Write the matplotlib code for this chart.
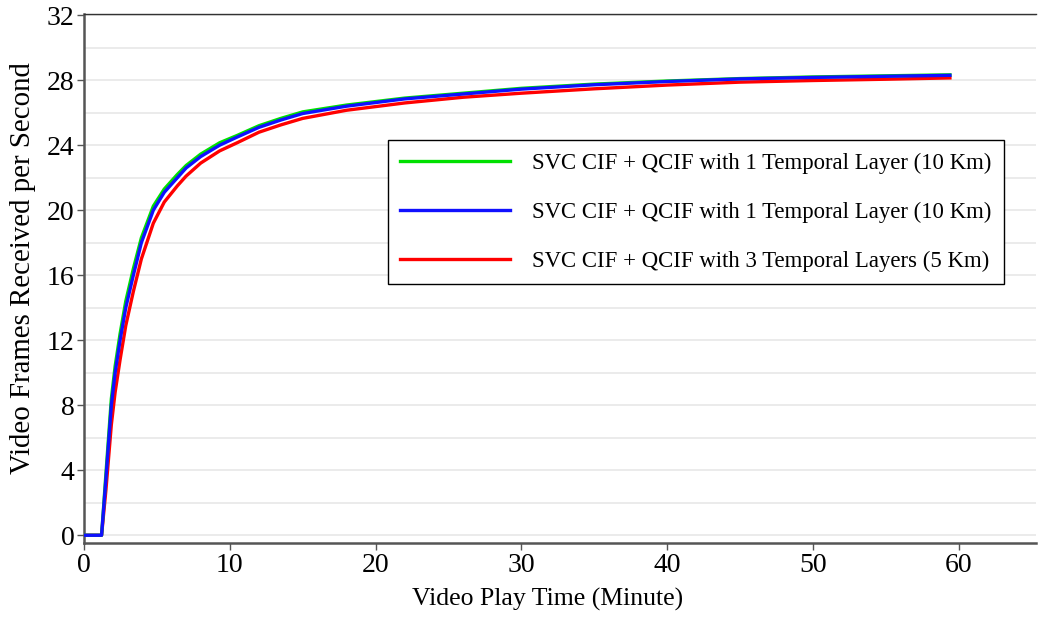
import numpy as np
import matplotlib
matplotlib.use('Agg')
import matplotlib.pyplot as plt
from matplotlib.ticker import MultipleLocator

plt.rcParams['font.family'] = ['Liberation Serif', 'DejaVu Serif']

# play time in minutes and received frame rate of the three runs
minutes = [0, 1.2, 1.5, 1.87, 2.13, 2.47, 2.86, 3.38, 3.93, 4.75, 5.5, 6.4, 7.0, 8, 9.3,
           10.5, 12, 13.5, 15, 18, 22, 26, 30, 35, 40, 45, 50, 55, 59.4]
green_fps = [0, 0, 3.8, 8.4, 10.4, 12.4, 14.4, 16.4, 18.3, 20.25, 21.3, 22.2, 22.75, 23.45, 24.15,
             24.6, 25.2, 25.65, 26.05, 26.47, 26.9, 27.2, 27.5, 27.76, 27.95, 28.1, 28.2, 28.27, 28.33]
blue_fps = [0, 0, 3.5, 8, 10, 12, 14, 16, 18, 20, 21.1, 22, 22.6, 23.3, 24,
            24.5, 25.1, 25.55, 25.95, 26.4, 26.85, 27.15, 27.45, 27.72, 27.92, 28.08, 28.17, 28.24, 28.3]
red_fps = [0, 0, 2.8, 6.8, 8.8, 10.8, 12.9, 15.0, 17.0, 19.2, 20.5, 21.5, 22.1, 22.9, 23.65,
           24.15, 24.8, 25.25, 25.65, 26.15, 26.6, 26.95, 27.2, 27.47, 27.7, 27.88, 27.98, 28.06, 28.14]
labels = ['SVC CIF + QCIF with 1 Temporal Layer (10 Km)',
          'SVC CIF + QCIF with 1 Temporal Layer (10 Km)',
          'SVC CIF + QCIF with 3 Temporal Layers (5 Km)']

fig = plt.figure(figsize=(10.38, 6.18), dpi=100)
ax = fig.add_axes([0.081, 0.121, 0.917, 0.856])

lg, = ax.plot(minutes, green_fps, color='#00e000', lw=2.4, zorder=3)
lr, = ax.plot(minutes, red_fps, color='#ff0000', lw=2.4, zorder=2)
lb, = ax.plot(minutes, blue_fps, color='#1010ff', lw=2.4, zorder=4)

ax.set_xlim(0, 65.3)
ax.set_ylim(-0.49, 32.06)
ax.xaxis.set_major_locator(MultipleLocator(10))
ax.yaxis.set_major_locator(MultipleLocator(4))
ax.yaxis.set_minor_locator(MultipleLocator(2))
ax.grid(axis='y', which='both', color='#e8e8e8', lw=1.2, zorder=0)
ax.set_axisbelow(True)

for s in ['left', 'bottom']:
    ax.spines[s].set_color('#555555')
    ax.spines[s].set_linewidth(1.8)
ax.spines['top'].set_color('#333333')
ax.spines['top'].set_linewidth(1.0)
ax.spines['right'].set_visible(False)

ax.tick_params(axis='both', which='major', labelsize=20, length=5, width=1, color='#555555', pad=2)
ax.tick_params(axis='y', which='minor', length=0)
ax.set_xlabel('Video Play Time (Minute)', fontsize=18.5, labelpad=3)
ax.xaxis.set_label_coords(0.487, -0.085)
ax.set_ylabel('Video Frames Received per Second', fontsize=20.8, labelpad=4)
ax.yaxis.set_label_coords(-0.050, 0.52)

leg = ax.legend([lg, lb, lr], labels, loc='upper left', bbox_to_anchor=(0.319, 0.762),
                fontsize=16.4, frameon=True, fancybox=False, handlelength=4.8,
                handletextpad=1.0, labelspacing=1.22, borderpad=0.55, borderaxespad=0)
leg.get_frame().set_edgecolor('black')
leg.get_frame().set_linewidth(1.0)
leg.get_frame().set_alpha(1)

fig.savefig('out.png', dpi=100)
